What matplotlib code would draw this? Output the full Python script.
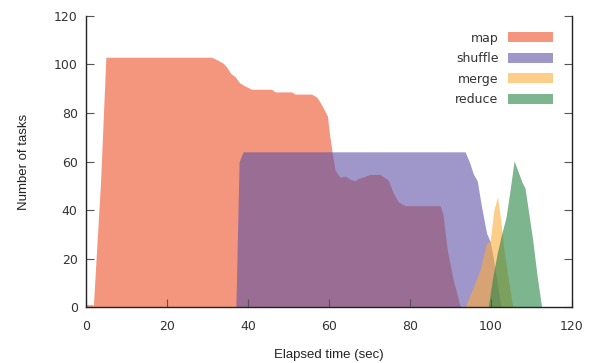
import numpy as np
import matplotlib
matplotlib.use("Agg")
import matplotlib.pyplot as plt
from matplotlib.patches import Patch

plt.rcParams['font.family'] = ['DejaVu Sans']
plt.rcParams['font.size'] = 9

# data (time in sec, number of running tasks)
map_t = [0, 1.7, 1.8, 3.6, 4.9, 31.0, 32.3, 33.9, 34.7, 35.7, 36.8, 37.9, 39.3, 40.9,
         45.8, 46.7, 50.8, 51.6, 55.7, 57.0, 58.2, 59.6, 60.1, 60.8, 61.5, 62.7, 64.0,
         65.2, 66.4, 67.2, 68.5, 70.1, 72.6, 74.6, 75.9, 77.1, 78.8, 87.4, 88.1, 89.2,
         90.7, 92.3, 92.7]
map_n = [1, 1, 0, 52, 103, 103, 102, 100.5, 99, 96.4, 95, 92.5, 91.1, 89.8,
         89.8, 88.7, 88.7, 87.8, 87.8, 86.5, 83.3, 78.8, 71.6, 63.4, 56.5, 53.5, 54,
         52.7, 52.1, 53, 53.7, 54.7, 54.7, 52.4, 46.9, 43.4, 41.8, 41.8, 38.6, 23.5,
         11.1, 0.8, 0]

shuffle_t = [37.0, 37.8, 38.8, 93.6, 94.8, 95.6, 96.6, 97.7, 98.9, 99.8, 100.6, 101.5, 102.5]
shuffle_n = [0, 60, 64, 64, 59.2, 55, 52, 41, 30.5, 27, 20, 10, 0]

merge_t = [93.6, 96.0, 97.3, 98.8, 99.8, 100.7, 101.6, 102.4, 103.2, 104.3, 105.4]
merge_n = [0, 9.8, 15.3, 26, 27.5, 40, 45.5, 35.9, 23.5, 11.1, 0]

reduce_t = [99.3, 100.3, 101.5, 102.6, 103.7, 104.7, 105.7, 106.7, 107.6, 108.4, 109.2,
            110.3, 111.3, 112.5]
reduce_n = [0, 11, 22, 30, 37, 48.2, 60.3, 55.8, 51.7, 49, 40, 27.6, 13.9, 0]

series = [("map", map_t, map_n, "#ed5028"),
          ("shuffle", shuffle_t, shuffle_n, "#5f52a5"),
          ("merge", merge_t, merge_n, "#fdac3c"),
          ("reduce", reduce_t, reduce_n, "#268443")]
alpha = 0.6

fig = plt.figure(figsize=(5.94, 3.63), dpi=100)
ax = fig.add_axes([0.1448, 0.154, 0.963 - 0.1448, 0.956 - 0.154])

handles = []
for name, t, n, c in series:
    ax.fill_between(t, 0, n, color=c, alpha=alpha, linewidth=0)
    handles.append(Patch(facecolor=c, alpha=alpha, edgecolor="none", label=name))

ax.set_xlim(0, 120)
ax.set_ylim(0, 120)
ax.set_xticks(np.arange(0, 121, 20))
ax.set_yticks(np.arange(0, 121, 20))
ax.tick_params(direction="in", length=6, color="#555555", labelcolor="#333333")
ax.tick_params(axis="y", right=True)
ax.spines["top"].set_visible(False)
for s in ["left", "bottom", "right"]:
    ax.spines[s].set_linewidth(1.0)
    ax.spines[s].set_color("#222222")
ax.tick_params(axis="x", pad=9)
ax.tick_params(axis="y", pad=6)

lab_font = dict(family=["Liberation Sans", "DejaVu Sans"], size=9.5, color="#222222")
ax.set_xlabel("Elapsed time (sec)", labelpad=12, **lab_font)
ax.set_ylabel("Number of tasks", labelpad=17, **lab_font)

leg = ax.legend(handles=handles, loc="upper right", bbox_to_anchor=(0.985, 0.985),
                markerfirst=False, frameon=False, handlelength=3.6, handleheight=0.8,
                labelspacing=0.6, handletextpad=0.8, fontsize=9)
for txt in leg.get_texts():
    txt.set_color("#333333")

fig.savefig("out.png", dpi=100)
